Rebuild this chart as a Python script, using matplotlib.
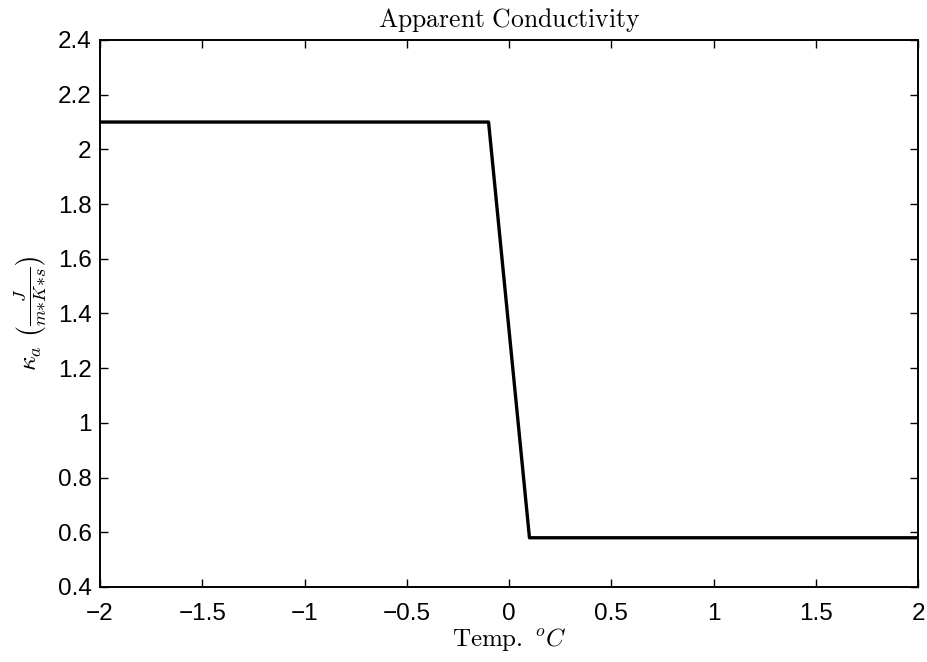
import matplotlib
matplotlib.use('Agg')
import matplotlib.pyplot as plt

# temperature (deg C) and apparent conductivity
temp = [-2.0, -0.1, 0.1, 2.0]
kappa = [2.1, 2.1, 0.58, 0.58]

xticks = [-2, -1.5, -1, -0.5, 0, 0.5, 1, 1.5, 2]
xticklabels = ['\u22122', '\u22121.5', '\u22121', '\u22120.5', '0', '0.5', '1', '1.5', '2']
yticks = [0.4, 0.6, 0.8, 1, 1.2, 1.4, 1.6, 1.8, 2, 2.2, 2.4]
yticklabels = ['0.4', '0.6', '0.8', '1', '1.2', '1.4', '1.6', '1.8', '2', '2.2', '2.4']

plt.rcParams['mathtext.fontset'] = 'cm'
plt.rcParams['font.family'] = ['Liberation Sans', 'DejaVu Sans']

fig = plt.figure(figsize=(9.27, 6.62), dpi=100)
ax = fig.add_axes([0.1079, 0.1133, 0.8824, 0.8263])

ax.plot(temp, kappa, color='black', linewidth=2.4)

ax.set_xlim(-2, 2)
ax.set_ylim(0.4, 2.4)
ax.set_xticks(xticks)
ax.set_xticklabels(xticklabels)
ax.set_yticks(yticks)
ax.set_yticklabels(yticklabels)
ax.tick_params(direction='in', length=6, width=1, top=True, right=True,
               labelsize=17.5)
ax.tick_params(axis='x', pad=11.5)
ax.tick_params(axis='y', pad=6)
for s in ax.spines.values():
    s.set_linewidth(1.4)

ax.set_title(r'$\mathrm{Apparent\ Conductivity}$', fontsize=18.5, pad=9.5)
ax.set_xlabel(r'$\mathrm{Temp.}\ ^oC$', fontsize=18, labelpad=1)
ax.set_ylabel(r'$\kappa_a\ \left(\frac{J}{m{*}K{*}s}\right)$', fontsize=18.5, labelpad=6)

fig.savefig('out.png', dpi=100)
